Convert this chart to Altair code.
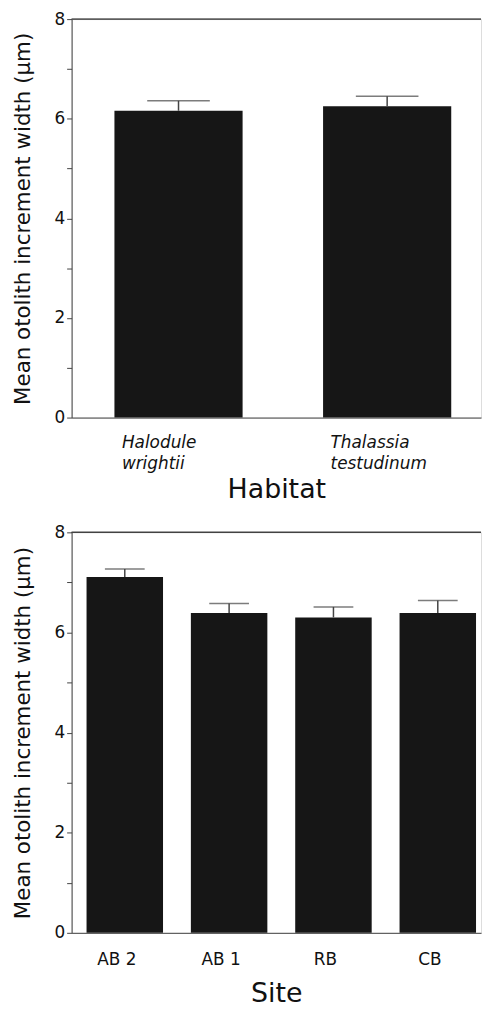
import altair as alt
import pandas as pd

habitat = ["Halodule wrightii", "Thalassia testudinum"]
habitat_mean = [6.16, 6.25]
habitat_upper = [6.36, 6.45]

site = ["AB 2", "AB 1", "RB", "CB"]
site_mean = [7.11, 6.39, 6.30, 6.39]
site_upper = [7.27, 6.58, 6.51, 6.64]

y_ticks = [0, 1, 2, 3, 4, 5, 6, 7, 8]
y_title = "Mean otolith increment width (\u00b5m)"

FONT = "DejaVu Sans"
INK = "#111111"
LINE = "#444444"


def panel(cats, means, uppers, xtitle, style, pad_inner, pad_outer, align, cap,
          label_expr, label_align, label_offset, label_padding, title_padding,
          height):
    df = pd.DataFrame({"cat": cats, "mean": means, "upper": uppers})
    xaxis = alt.Axis(
        title=xtitle, labelAngle=0, ticks=False, labelFont=FONT, labelFontSize=17,
        labelFontStyle=style, labelColor=INK, labelExpr=label_expr,
        labelLineHeight=21, labelPadding=label_padding, labelAlign=label_align,
        labelOffset=label_offset,
        titleFont=FONT, titleFontSize=27, titleFontWeight="normal", titleColor=INK,
        titlePadding=title_padding, domainColor=LINE, domainWidth=1,
    )
    x = alt.X("cat:N", sort=cats,
              scale=alt.Scale(paddingInner=pad_inner, paddingOuter=pad_outer,
                              align=align),
              axis=xaxis)
    yaxis = alt.Axis(
        values=y_ticks, labelExpr="datum.value % 2 == 0 ? datum.label : ''",
        title=y_title, grid=False, tickSize=5, tickColor=LINE, domainColor=LINE,
        labelFont=FONT, labelFontSize=17, labelColor=INK, labelPadding=2,
        titleFont=FONT, titleFontSize=21.5, titleFontWeight="normal", titleColor=INK,
        titlePadding=20,
    )
    y = alt.Y("mean:Q", scale=alt.Scale(domain=[0, 8], nice=False), axis=yaxis)
    base = alt.Chart(df)
    bars = base.mark_bar(color="#161616").encode(x=x, y=y)
    xs = alt.X("cat:N", sort=cats)
    stem = base.mark_rule(color=LINE, strokeWidth=1.5).encode(
        x=xs, y="mean:Q", y2="upper:Q")
    caps = base.mark_tick(color=LINE, thickness=1.5, size=cap).encode(
        x=xs, y="upper:Q")
    topline = base.mark_rule(color=LINE, strokeWidth=1).encode(y=alt.datum(8))
    return alt.layer(bars, stem, caps, topline).properties(width=412, height=height)


top = panel(habitat, habitat_mean, habitat_upper, "Habitat", "italic",
            0.3857, 0.174, 0.59, 63, "split(datum.label, ' ')", "left", -57, 17, 5.5,
            401)
bottom = panel(site, site_mean, site_upper, "Site", "normal",
               0.267, 0.0955, 0.75, 40, "datum.label", "center", -8, 19, 13,
               403)

chart = alt.vconcat(top, bottom, spacing=19.5).properties(
    padding={"left": 3, "top": -2, "right": 0, "bottom": 0}
).configure_view(stroke=None).configure(background="white")

chart.save("out.html", embed_options={"renderer": "svg", "actions": False})
